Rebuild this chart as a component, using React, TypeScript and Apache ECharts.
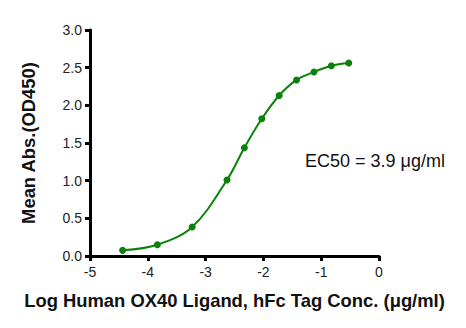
import React, { useEffect, useRef } from "react";
import * as echarts from "echarts";

const logConc = [-4.436, -3.834, -3.232, -2.63, -2.329, -2.028, -1.727, -1.426, -1.125, -0.824, -0.523];
const meanAbs = [0.075, 0.15, 0.384, 1.009, 1.438, 1.821, 2.13, 2.337, 2.443, 2.526, 2.562];
const xTitle = "Log Human OX40 Ligand, hFc Tag Conc. (\u03bcg/ml)";
const yTitle = "Mean Abs.(OD450)";
const ec50Label = "EC50 = 3.9 \u03bcg/ml";
const green = "#0a820a";
const axisColor = "rgba(0,0,0,1)";

export default function App() {
  const ref = useRef<HTMLDivElement>(null);
  useEffect(() => {
    const chart = echarts.init(ref.current!, null, { renderer: "svg" });
    const font = "Liberation Sans, Arial, sans-serif";
    chart.setOption({
      animation: false,
      grid: { left: 90, right: 87, top: 30, bottom: 72 },
      xAxis: {
        type: "value",
        min: -5,
        max: 0,
        interval: 1,
        name: xTitle,
        nameLocation: "middle",
        nameGap: 35,
        nameTextStyle: { fontSize: 18.4, fontWeight: "bold", color: "#111", fontFamily: font },
        axisLine: { show: true, onZero: false, lineStyle: { color: axisColor, width: 3, opacity: 1 } },
        axisTick: { show: true, length: 5, lineStyle: { color: axisColor, width: 3, opacity: 1 } },
        axisLabel: { fontSize: 14, color: "#222", margin: 9, fontFamily: font },
        splitLine: { show: false },
      },
      yAxis: {
        type: "value",
        min: 0,
        max: 3,
        interval: 0.5,
        name: yTitle,
        nameLocation: "middle",
        nameGap: 53,
        nameTextStyle: { fontSize: 18.4, fontWeight: "bold", color: "#111", fontFamily: font },
        axisLine: { show: true, onZero: false, lineStyle: { color: axisColor, width: 3, opacity: 1 } },
        axisTick: { show: true, length: 5, lineStyle: { color: axisColor, width: 3, opacity: 1 } },
        axisLabel: { fontSize: 14, color: "#222", margin: 8, fontFamily: font, formatter: (v: number) => v.toFixed(1) },
        splitLine: { show: false },
      },
      series: [
        {
          type: "line",
          data: logConc.map((x, i) => [x, meanAbs[i]]),
          smooth: 0.35,
          symbol: "circle",
          symbolSize: 7,
          lineStyle: { color: green, width: 2 },
          itemStyle: { color: green },
        },
      ],
      graphic: [
        {
          type: "text",
          left: 305,
          top: 152,
          style: { text: ec50Label, fontSize: 18, fill: "#111", fontFamily: font },
        },
      ],
    });
    return () => chart.dispose();
  }, []);
  return <div ref={ref} style={{ position: "absolute", left: 0, top: 0, width: 466, height: 328 }} />;
}
